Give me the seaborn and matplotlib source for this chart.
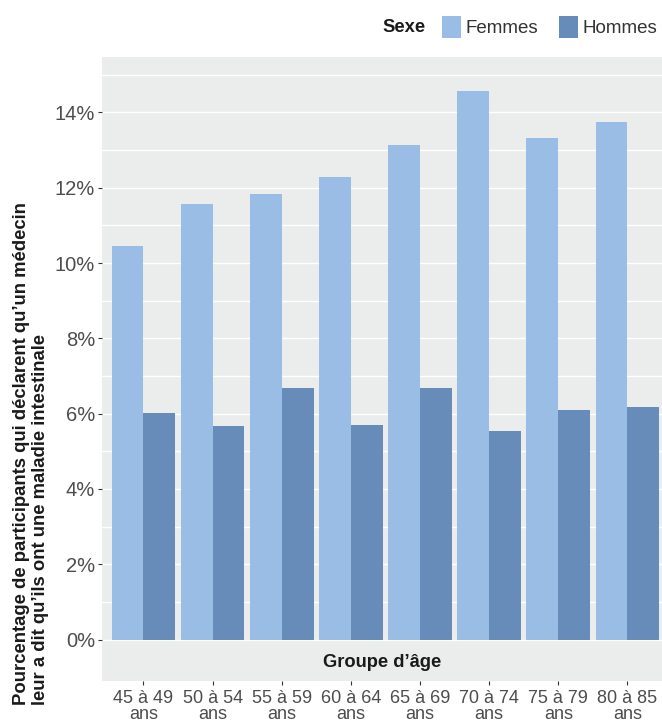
import matplotlib
matplotlib.use("Agg")
import matplotlib.pyplot as plt
import seaborn as sns
import pandas as pd
from matplotlib.ticker import FixedLocator, FuncFormatter

# Data (percent)
groups = ["45 à 49\nans", "50 à 54\nans", "55 à 59\nans", "60 à 64\nans",
          "65 à 69\nans", "70 à 74\nans", "75 à 79\nans", "80 à 85\nans"]
femmes = [10.45, 11.57, 11.83, 12.28, 13.13, 14.57, 13.32, 13.74]
hommes = [6.01, 5.67, 6.68, 5.70, 6.68, 5.54, 6.10, 6.18]
sexes = ["Femmes", "Hommes"]
colors = ["#99bde5", "#678cb9"]

df = pd.concat([
    pd.DataFrame({"Groupe": groups, "Pct": femmes, "Sexe": sexes[0]}),
    pd.DataFrame({"Groupe": groups, "Pct": hommes, "Sexe": sexes[1]}),
])

sns.set_style("darkgrid", {"axes.facecolor": "#ebecec", "grid.color": "white"})
plt.rcParams["font.family"] = ["Liberation Sans", "DejaVu Sans"]
plt.rcParams["figure.dpi"] = 100

fig = plt.figure(figsize=(6.62, 7.27), dpi=100)
ax = fig.add_axes([102 / 662, 1 - 680.7 / 727, 1 - 102 / 662, (680.7 - 57) / 727])

sns.barplot(data=df, x="Groupe", y="Pct", hue="Sexe", palette=colors,
            width=0.92, saturation=1, linewidth=0, ax=ax, legend=True)

ax.set_xlim(-0.6, 7.5)
ax.set_ylim(-1.09, 15.47)
ax.yaxis.set_major_locator(FixedLocator([0, 2, 4, 6, 8, 10, 12, 14]))
ax.yaxis.set_minor_locator(FixedLocator([1, 3, 5, 7, 9, 11, 13, 15]))
ax.yaxis.set_major_formatter(FuncFormatter(lambda v, p: f"{v:.0f}%"))
ax.grid(axis="y", which="both", color="white", linewidth=1.0)
ax.grid(axis="x", visible=False)
ax.set_axisbelow(True)
for s in ax.spines.values():
    s.set_visible(False)

ax.tick_params(axis="y", which="major", length=3, width=0.8, color="#333333",
               labelsize=14.5, labelcolor="#4d4d4d", pad=2, left=True)
ax.tick_params(axis="y", which="minor", length=0)
ax.tick_params(axis="x", length=3, width=0.8, color="#333333",
               labelsize=13, labelcolor="#4d4d4d", pad=4, bottom=True)
for lab in ax.get_xticklabels():
    lab.set_linespacing(0.9)

ax.set_xlabel("")
ax.set_ylabel("")
ax.text(0.5, -0.6, "Groupe d’âge", transform=ax.get_yaxis_transform(),
        ha="center", va="center", fontsize=13.2, fontweight="bold", color="#1a1a1a")

# y-axis title, two lines
fig.text(22 / 662, 1 - 705 / 727, "Pourcentage de participants qui déclarent qu’un médecin",
         rotation=90, ha="center", va="bottom", fontsize=13.3, fontweight="bold", color="#1a1a1a")
fig.text(41 / 662, 1 - 705 / 727, "leur a dit qu’ils ont une maladie intestinale",
         rotation=90, ha="center", va="bottom", fontsize=13.3, fontweight="bold", color="#1a1a1a")

# legend across the top
handles, labels = ax.get_legend_handles_labels()
ax.get_legend().remove()
fig.text(382 / 662, 1 - 27 / 727, "Sexe", ha="left", va="center",
         fontsize=13.2, fontweight="bold", color="#1a1a1a")
fig.legend(handles, labels, ncol=2, loc="center left",
           bbox_to_anchor=(442 / 662, 1 - 27 / 727), frameon=False,
           fontsize=13.5, handlelength=1.0, handleheight=1.4, handletextpad=0.27,
           columnspacing=1.1, borderaxespad=0, borderpad=0, labelcolor="#333333")

fig.savefig("out.png", dpi=100)
